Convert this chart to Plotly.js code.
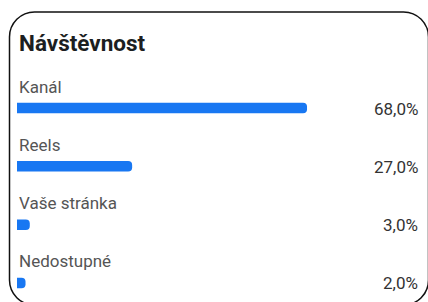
<!DOCTYPE html>
<html>
<head>
<meta charset="utf-8">
<script src="https://cdn.plot.ly/plotly-3.0.1.min.js"></script>
<style>
html,body{margin:0;padding:0;background:#fff;overflow:hidden;}
#chart{width:428px;height:302px;}
</style>
</head>
<body>
<div id="chart"></div>
<script>
const chartTitle = 'Návštěvnost';
const categories = ['Kanál', 'Reels', 'Vaše stránka', 'Nedostupné'];
const values = [68, 27, 3, 2];

const W = 428, H = 302;
const M = {l: 17, r: 10, t: 0, b: 0};
const plotW = W - M.l - M.r, plotH = H - M.t - M.b;
const pxPerUnit = 4.265;
const rowPx = 58.33;
const firstRowPx = 108;
const yTop = -firstRowPx / rowPx;
const yBottom = yTop + plotH / rowPx;

const fontFam = 'Roboto, Helvetica, Arial, sans-serif';

function fmt(v){ return v.toFixed(1).replace('.', ',') + '%'; }

// border path (card outline) in paper coordinates
function px2x(px){ return (px - M.l) / plotW; }
function py2y(py){ return (H - M.b - py) / plotH; }
function cardPath(x0, y0, x1, y1, r){
  const k = 0.5523 * r;
  const P = (x, y) => px2x(x).toFixed(5) + ',' + py2y(y).toFixed(5);
  return 'M' + P(x0, y0 + r) +
    ' C' + P(x0, y0 + r - k) + ' ' + P(x0 + r - k, y0) + ' ' + P(x0 + r, y0) +
    ' L' + P(x1 - r, y0) +
    ' C' + P(x1 - r + k, y0) + ' ' + P(x1, y0 + r - k) + ' ' + P(x1, y0 + r) +
    ' L' + P(x1, y1 - r) +
    ' C' + P(x1, y1 - r + k) + ' ' + P(x1 - r + k, y1) + ' ' + P(x1 - r, y1) +
    ' L' + P(x0 + r, y1) +
    ' C' + P(x0 + r - k, y1) + ' ' + P(x0, y1 - r + k) + ' ' + P(x0, y1 - r) + ' Z';
}

const trace = {
  type: 'bar',
  orientation: 'h',
  x: values,
  y: categories,
  width: 0.18,
  marker: {color: '#1877F2', cornerradius: 4},
  hoverinfo: 'none'
};

const annotations = [];
categories.forEach((c, i) => {
  annotations.push({
    text: c, x: 0, y: c, xref: 'x', yref: 'y',
    xanchor: 'left', yanchor: 'middle', xshift: 0, yshift: 21.5,
    showarrow: false, font: {family: fontFam, size: 17, color: '#555555'}
  });
  annotations.push({
    text: fmt(values[i]), x: 1, y: c, xref: 'paper', yref: 'y',
    xanchor: 'right', yanchor: 'middle', xshift: 2, yshift: -0.5,
    showarrow: false, font: {family: fontFam, size: 17, color: '#333333'}
  });
});

const layout = {
  width: W, height: H,
  margin: M,
  paper_bgcolor: '#ffffff', plot_bgcolor: '#ffffff',
  showlegend: false,
  title: {
    text: chartTitle,
    font: {family: fontFam, size: 22.5, weight: 700, color: '#1c1e21'},
    x: 19 / W, xanchor: 'left', xref: 'container',
    y: 1 - 43 / H, yanchor: 'middle', yref: 'container'
  },
  xaxis: {range: [0, plotW / pxPerUnit], showgrid: false, zeroline: false,
          showticklabels: false, showline: false, fixedrange: true},
  yaxis: {type: 'category', categoryorder: 'array', categoryarray: categories,
          range: [yBottom, yTop], showgrid: false, zeroline: false,
          showticklabels: false, showline: false, fixedrange: true},
  annotations: annotations,
  shapes: [{
    type: 'path', xref: 'paper', yref: 'paper',
    path: cardPath(9.5, 12, 428.5, 305, 25),
    line: {color: '#111111', width: 1.5}, layer: 'above'
  }]
};

Plotly.newPlot('chart', [trace], layout, {displayModeBar: false, staticPlot: true});
</script>
</body>
</html>
